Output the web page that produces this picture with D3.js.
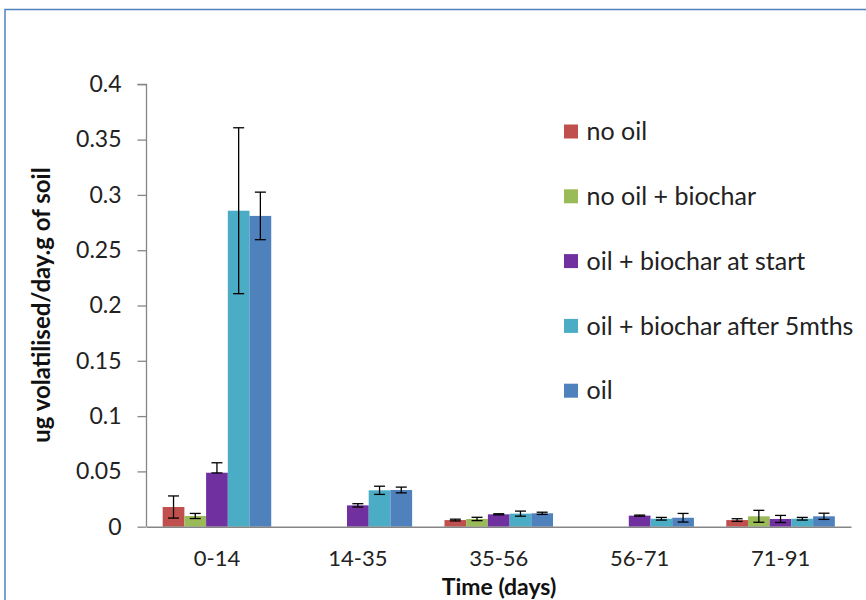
<!DOCTYPE html>
<html>
<head>
<meta charset="utf-8">
<script src="https://cdn.jsdelivr.net/npm/d3@7"></script>
<style>
  html, body { margin: 0; padding: 0; background: #fff; }
  svg { display: block; }
</style>
</head>
<body>
<script>
// ---- data ----
const categories = ["0-14", "14-35", "35-56", "56-71", "71-91"];
const seriesNames = ["no oil", "no oil + biochar", "oil + biochar at start", "oil + biochar after 5mths", "oil"];
const seriesColors = ["#C0504D", "#9BBB59", "#7030A0", "#4BACC6", "#4F81BD"];

const noOil            = [0.0178, null,   0.0060, null,   0.0060];
const noOilBiochar     = [0.0097, null,   0.0070, null,   0.0094];
const oilBiocharStart  = [0.0488, 0.0193, 0.0112, 0.0100, 0.0070];
const oilBiochar5mths  = [0.2857, 0.0329, 0.0118, 0.0072, 0.0072];
const oil              = [0.2810, 0.0332, 0.0121, 0.0081, 0.0094];

// upper error (+)
const noOilErr           = [0.0100, null,   0.0008, null,   0.0012];
const noOilBiocharErr    = [0.0023, null,   0.0015, null,   0.0054];
const oilBiocharStartErr = [0.0090, 0.0015, 0.0005, 0.0005, 0.0032];
const oilBiochar5mthsErr = [0.0750, 0.0037, 0.0023, 0.0012, 0.0012];
const oilErr             = [0.0215, 0.0026, 0.0010, 0.0039, 0.0028];
// lower error (-), where it differs from the upper one
const oilBiocharStartErrLow = [0.0002, 0.0015, 0.0005, 0.0005, 0.0032];

const yTicks = [0, 0.05, 0.1, 0.15, 0.2, 0.25, 0.3, 0.35, 0.4];
const yTitle = "ug volatilised/day.g of soil";
const xTitle = "Time (days)";

const seriesValues = [noOil, noOilBiochar, oilBiocharStart, oilBiochar5mths, oil];
const seriesErrors = [noOilErr, noOilBiocharErr, oilBiocharStartErr, oilBiochar5mthsErr, oilErr];
const seriesErrorsLow = [noOilErr, noOilBiocharErr, oilBiocharStartErrLow, oilBiochar5mthsErr, oilErr];

// ---- layout ----
const W = 866, H = 600;
const FONT = "Lato, 'Open Sans', 'DejaVu Sans', sans-serif";
const svg = d3.select("body").append("svg").attr("width", W).attr("height", H);

svg.append("rect").attr("width", W).attr("height", H).attr("fill", "#fff");
// outer frame (extends beyond right/bottom)
svg.append("rect").attr("x", 5).attr("y", 9.5).attr("width", W + 20).attr("height", H + 20)
  .attr("fill", "none").attr("stroke", "#4F81BD").attr("stroke-width", 1.5);

const plotLeft = 146.5, plotRight = 851, plotTop = 84.3, plotBottom = 526.7;

const x0 = d3.scaleBand().domain(categories).range([plotLeft, plotRight]).padding(0);
const x1 = d3.scaleBand().domain(seriesNames).range([0, x0.bandwidth()]).paddingInner(0).paddingOuter(0.745);
const y = d3.scaleLinear().domain([0, 0.4]).range([plotBottom, plotTop]);

// bars
const data = [];
categories.forEach((c, ci) => {
  seriesNames.forEach((s, si) => {
    const v = seriesValues[si][ci];
    if (v != null) data.push({ c, s, si, v, e: seriesErrors[si][ci], el: seriesErrorsLow[si][ci] });
  });
});

svg.append("g").selectAll("rect").data(data).join("rect")
  .attr("x", d => x0(d.c) + x1(d.s))
  .attr("y", d => y(d.v))
  .attr("width", x1.bandwidth())
  .attr("height", d => y(0) - y(d.v))
  .attr("fill", d => seriesColors[d.si]);

// error bars
const eg = svg.append("g").attr("stroke", "#000").attr("stroke-width", 1.3);
const cap = 5.5;
data.filter(d => d.e != null).forEach(d => {
  const cx = x0(d.c) + x1(d.s) + x1.bandwidth() / 2;
  const yt = y(d.v + d.e), yb = y(Math.max(0, d.v - d.el));
  eg.append("line").attr("x1", cx).attr("x2", cx).attr("y1", yt).attr("y2", yb);
  eg.append("line").attr("x1", cx - cap).attr("x2", cx + cap).attr("y1", yt).attr("y2", yt);
  eg.append("line").attr("x1", cx - cap).attr("x2", cx + cap).attr("y1", yb).attr("y2", yb);
});

// y axis
const yAxis = d3.axisLeft(y).tickValues(yTicks).tickFormat(d => String(+d.toFixed(2))).tickSize(9).tickPadding(16);
const yg = svg.append("g").attr("transform", `translate(${plotLeft},0)`).call(yAxis);
yg.select(".domain").attr("stroke", "#868686").attr("stroke-width", 1.3).attr("d", `M-9,${plotTop}H0V${plotBottom}`);
yg.selectAll(".tick line").attr("stroke", "#868686").attr("stroke-width", 1.3);
yg.selectAll(".tick text").attr("font-family", FONT).attr("font-size", 23).attr("fill", "#222");

// x axis
const xAxis = d3.axisBottom(x0).tickSize(0).tickPadding(0);
const xg = svg.append("g").attr("transform", `translate(0,${plotBottom})`).call(xAxis);
xg.select(".domain").attr("stroke", "#868686").attr("stroke-width", 1.5);
xg.selectAll(".tick text").attr("font-family", FONT).attr("font-size", 22).attr("fill", "#222")
  .attr("y", 39.5).attr("dy", 0);

// axis titles
svg.append("text").attr("x", 499).attr("y", 594.5).attr("text-anchor", "middle")
  .attr("font-family", FONT).attr("font-weight", "bold").attr("font-size", 23).attr("fill", "#111")
  .text(xTitle);
svg.append("text").attr("transform", "translate(50,305) rotate(-90)").attr("text-anchor", "middle")
  .attr("font-family", FONT).attr("font-weight", "bold").attr("font-size", 24).attr("fill", "#111")
  .text(yTitle);

// legend
const lg = svg.append("g");
seriesNames.forEach((s, i) => {
  const cy = 131.5 + i * 64.8;
  lg.append("rect").attr("x", 564).attr("y", cy - 7).attr("width", 14).attr("height", 14).attr("fill", seriesColors[i]);
  lg.append("text").attr("x", 586.5).attr("y", cy).attr("dy", "0.35em")
    .attr("font-family", FONT).attr("font-size", 25).attr("fill", "#222").text(s);
});
</script>
</body>
</html>
